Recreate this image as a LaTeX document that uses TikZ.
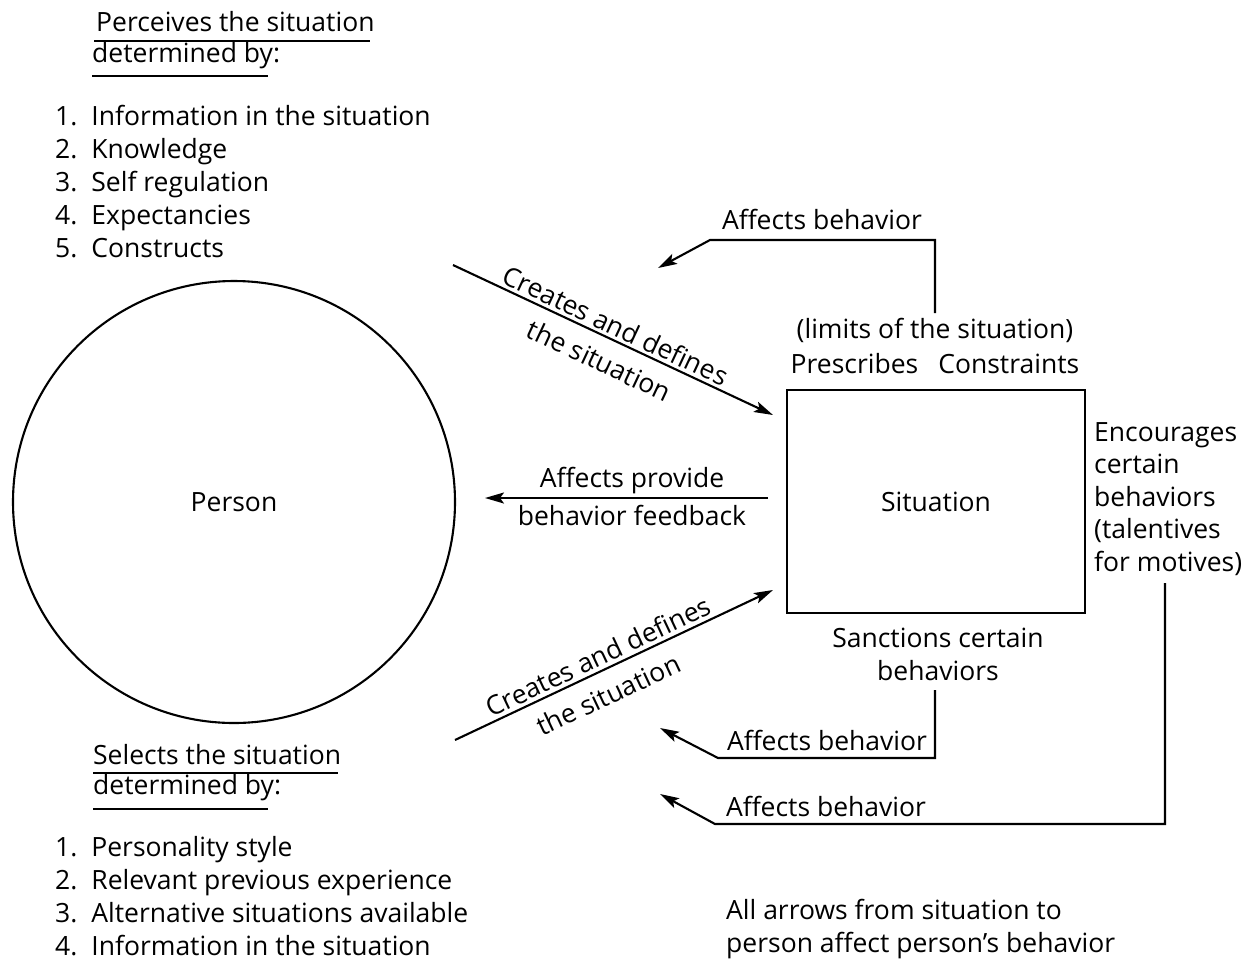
\documentclass[tikz,border=0pt]{standalone}
\usepackage{fontspec}
\setmainfont{Open Sans}[Ligatures=CommonOff]
\usetikzlibrary{arrows.meta}
\tikzset{
  txt/.style={inner sep=0pt, font=\fontsize{26.5}{33}\selectfont},
  ln/.style={line width=2.1pt},
  arr/.style={line width=2.1pt, -{Stealth[length=19pt,width=11pt,inset=4pt]}},
  ul/.style={line width=1.6pt},
}
\begin{document}
\begin{tikzpicture}[x=1pt,y=-1pt]
\useasboundingbox (0,0) rectangle (1258,962);

% top-left block
\node[txt, anchor=west] (per1) at (96,22) {Perceives the situation};
\node[txt, anchor=west] (per2) at (92,56) {determined by:};
\draw[ul] (94,41) -- (370,41);
\draw[ul] (92,76) -- (268,76);
\node[txt, anchor=base west] (list1) at (55,125) {\begin{tabular}[t]{@{}l@{\hspace{14pt}}l@{}}
1. & Information in the situation\\
2. & Knowledge\\
3. & Self regulation\\
4. & Expectancies\\
5. & Constructs
\end{tabular}};

% main shapes
\node[draw, circle, ln, minimum size=442pt, inner sep=0pt, font=\fontsize{26.5}{33}\selectfont] (person) at (234,502) {Person};
\node[draw, rectangle, ln, minimum width=298pt, minimum height=223pt, inner sep=0pt, font=\fontsize{26.5}{33}\selectfont] (situation) at (936,501.5) {Situation};

% labels around situation
\node[txt] (limits) at (935,330) {(limits of the situation)};
\node[txt] (prescr) at (935,364) {Prescribes\hspace{20pt}Constraints};
\node[txt, align=left, anchor=west, font=\fontsize{26.5}{32.5}\selectfont] (encour) at (1094,499) {Encourages\\certain\\behaviors\\(talentives\\for motives)};
\node[txt, align=center] (sanct) at (938,654) {Sanctions certain\\behaviors};

% top affects behavior
\coordinate (ta1) at (710,240);
\coordinate (ta2) at (658,268);
\coordinate (ta0) at (935,313);
\draw[arr] (ta0) |- (ta1) -- (ta2);
\node[txt] (lblTop) at (822,219) {Affects behavior};

% upper creates arrow
\coordinate (c1s) at (453,265);
\coordinate (c1e) at (773,415);
\draw[arr] (c1s) -- (c1e);
\path (c1s) -- (c1e)
  node[txt, pos=0.49, sloped, above=4pt] (lblC1a) {Creates and defines}
  node[txt, pos=0.49, sloped, below=14pt] (lblC1b) {the situation};

% feedback arrow
\coordinate (fbS) at (768,498);
\coordinate (fbE) at (485,498);
\draw[arr] (fbS) -- (fbE);
\node[txt, anchor=south] (lblFb1) at (632,494) {Affects provide};
\node[txt, anchor=north] (lblFb2) at (632,505) {behavior feedback};

% lower creates arrow
\coordinate (c2s) at (455,740);
\coordinate (c2e) at (773,590);
\draw[arr] (c2s) -- (c2e);
\path (c2s) -- (c2e)
  node[txt, pos=0.47, sloped, above=4pt] (lblC2a) {Creates and defines}
  node[txt, pos=0.45, sloped, below=14pt] (lblC2b) {the situation};

% bottom affects behavior 1
\coordinate (b1s) at (935,690);
\coordinate (b1a) at (718,758);
\coordinate (b1e) at (660,728);
\draw[arr] (b1s) |- (b1a) -- (b1e);
\node[txt] (lblB1) at (827,740) {Affects behavior};

% bottom affects behavior 2
\coordinate (b2s) at (1165,583);
\coordinate (b2a) at (715,824);
\coordinate (b2e) at (660,794);
\draw[arr] (b2s) |- (b2a) -- (b2e);
\node[txt] (lblB2) at (826,806) {Affects behavior};

% bottom-left block
\node[txt, anchor=west] (sel1) at (93,755) {Selects the situation};
\node[txt, anchor=west] (sel2) at (93,788) {determined by:};
\draw[ul] (93,773) -- (338,773);
\draw[ul] (93,809) -- (268,809);
\node[txt, anchor=base west] (list2) at (55,856) {\begin{tabular}[t]{@{}l@{\hspace{14pt}}l@{}}
1. & Personality style\\
2. & Relevant previous experience\\
3. & Alternative situations available\\
4. & Information in the situation
\end{tabular}};

% note
\node[txt, align=left, anchor=west] (note) at (726,929) {All arrows from situation to\\person affect person's behavior};
\end{tikzpicture}
\end{document}
